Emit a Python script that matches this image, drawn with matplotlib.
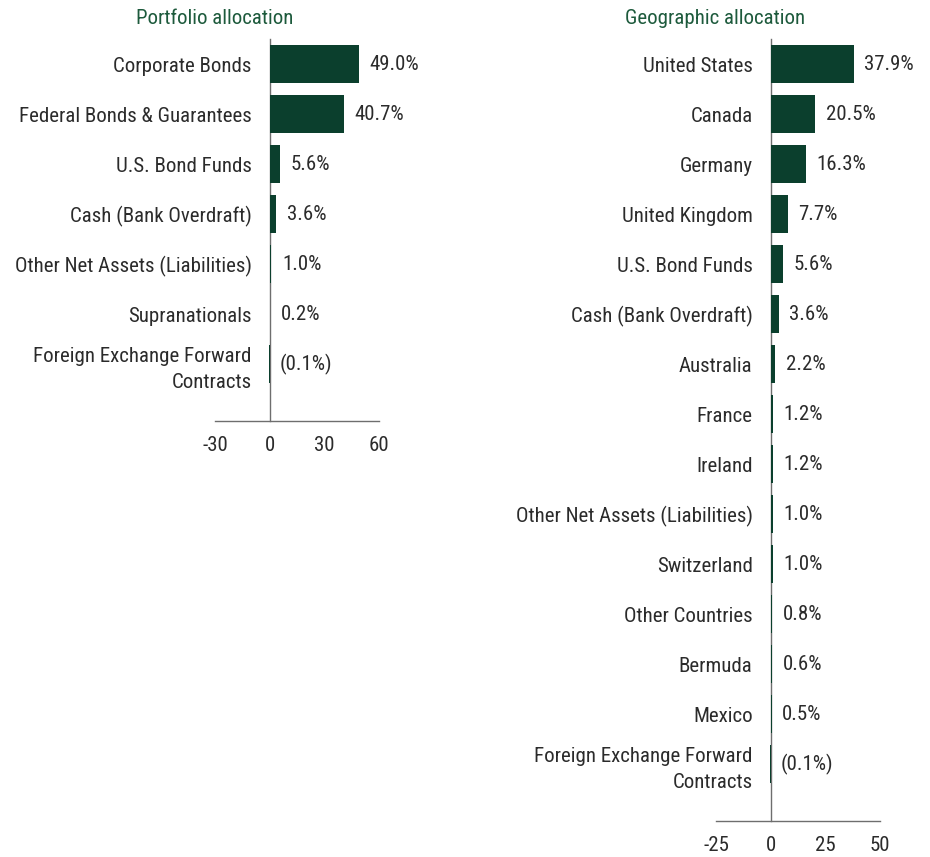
import matplotlib
matplotlib.use("Agg")
import matplotlib.pyplot as plt
from matplotlib import font_manager

names = {f.name for f in font_manager.fontManager.ttflist}
fam = [n for n in ["Liberation Sans Narrow", "Roboto Condensed", "Roboto", "DejaVu Sans"] if n in names]
plt.rcParams["font.family"] = fam

portfolio_labels = ["Corporate Bonds", "Federal Bonds & Guarantees", "U.S. Bond Funds",
                    "Cash (Bank Overdraft)", "Other Net Assets (Liabilities)",
                    "Supranationals", "Foreign Exchange Forward\nContracts"]
portfolio_values = [49.0, 40.7, 5.6, 3.6, 1.0, 0.2, -0.1]
portfolio_ticks = [-30, 0, 30, 60]

geo_labels = ["United States", "Canada", "Germany", "United Kingdom", "U.S. Bond Funds",
              "Cash (Bank Overdraft)", "Australia", "France", "Ireland",
              "Other Net Assets (Liabilities)", "Switzerland", "Other Countries",
              "Bermuda", "Mexico", "Foreign Exchange Forward\nContracts"]
geo_values = [37.9, 20.5, 16.3, 7.7, 5.6, 3.6, 2.2, 1.2, 1.2, 1.0, 1.0, 0.8, 0.6, 0.5, -0.1]
geo_ticks = [-25, 0, 25, 50]

BAR = "#0b3f2d"
TXT = "#2b2b2b"
GRID = "#6e6e6e"
TITLE = "#1d5a3c"
FS = 15

W, H = 930, 857
fig = plt.figure(figsize=(W / 100, H / 100), dpi=100)


def draw(ax, labels, values, ticks, title, title_x):
    n = len(labels)
    y = list(range(n))
    for s in ["top", "right"]:
        ax.spines[s].set_visible(False)
    ax.spines["left"].set_position(("data", 0))
    for s in ["bottom", "left"]:
        ax.spines[s].set_color(GRID)
        ax.spines[s].set_linewidth(1.0)
    ax.barh(y, values, height=0.76, color=BAR, zorder=3)
    ax.set_xlim(ticks[0], ticks[-1])
    ax.set_ylim(n - 1 + 1.14, -0.5)
    ax.set_yticks(y)
    ax.set_yticklabels(labels, fontsize=FS, color=TXT, ha="right", linespacing=1.45)
    ax.set_xticks(ticks)
    ax.set_xticklabels([str(t) for t in ticks], fontsize=FS, color=TXT)
    ax.tick_params(axis="y", length=0, pad=13)
    ax.tick_params(axis="x", length=0, pad=11)
    for yi, v in zip(y, values):
        if v < 0:
            txt = "({:.1f}%)".format(abs(v))
            x = 0
        else:
            txt = "{:.1f}%".format(v)
            x = v
        ax.annotate(txt, (x, yi), xytext=(7.5, 0), textcoords="offset points",
                    ha="left", va="center", fontsize=FS, color=TXT)
    fig.text(title_x / W, 1 - 18 / H, title, fontsize=FS, color=TITLE,
             ha="left", va="center")


ax1 = fig.add_axes([215 / W, 1 - 421 / H, 164 / W, (421 - 39) / H])
draw(ax1, portfolio_labels, portfolio_values, portfolio_ticks, "Portfolio allocation", 136)

ax2 = fig.add_axes([716 / W, 1 - 821 / H, 164 / W, (821 - 39) / H])
draw(ax2, geo_labels, geo_values, geo_ticks, "Geographic allocation", 625)

fig.savefig("out.png", dpi=100)
